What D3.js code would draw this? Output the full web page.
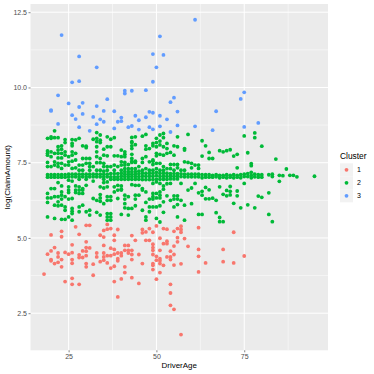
<!DOCTYPE html>
<html><head><meta charset="utf-8"><script src="https://cdn.jsdelivr.net/npm/d3@7"></script>
<style>html,body{margin:0;background:#fff}svg{display:block;font-family:"Liberation Sans",Arial,sans-serif}</style></head>
<body><svg id="c" width="374" height="374"></svg>
<script>
const xTicks=[25,50,75], yTicks=[2.5,5,7.5,10,12.5];
const xTitle="DriverAge", yTitle="log(ClaimAmount)", legendTitle="Cluster";
const clusters=["1","2","3"], colours=["#F8766D","#00BA38","#619CFF"];
const cluster1=[[18,[3.8]],[19,[4.46]],[20,[4.57,5.1,4.28,4.24]],[21,[4.68,4.15]],[22,[4.5,4.37,4.19]],[23,[5.22,5.04,4.28,4.04]],[24,[3.55,4.52]],[25,[4.46]],[26,[4.77,4.51,4.28,4.16,3.66,3.46]],[27,[5.37]],[28,[5.12,4.44,4.35,3.46]],[29,[4.57,4.35]],[30,[5.42,4.87,4.68,4.56,4.41,4.15,4.04]],[31,[5.42,4.67]],[32,[4.13,3.76]],[33,[4.5,4.37]],[34,[5.09,4.21]],[35,[5.25,5.03,4.75,4.5,4.37,4.26]],[36,[5.45,5.29,4.41,4.17]],[37,[5.31,4.66,4.41,4.0]],[38,[5.09,4.92,4.62,4.46,4.06,3.55]],[39,[5.28,4.5,4.31,4.24,3.04]],[40,[4.5,4.41,3.64]],[41,[4.75,4.59,4.04,3.85]],[42,[4.75,4.59,4.5]],[43,[5.08,4.59,4.45,4.28,3.68]],[44,[4.92]],[45,[4.45,3.49]],[46,[5.28,5.17,4.15]],[47,[5.2,4.92]],[48,[5.31,4.92]],[49,[5.19,4.79,4.68,4.59,4.45,4.15,4.09,3.95]],[50,[5.4,4.39,4.26,3.63]],[51,[4.99,4.59,4.31,4.24,4.15,3.85]],[52,[5.31,4.81,4.09]],[53,[5.29,4.89,4.81,4.37]],[54,[4.56,4.37,4.28,3.46,3.17,2.76]],[55,[5.22,4.73,4.45,4.1,2.63]],[56,[5.31,5.01,4.87]],[57,[5.39,5.28,5.19,4.14,1.79]],[58,[4.98]],[59,[4.72]],[62,[5.34,4.62,4.39,3.87]],[64,[4.17]],[69,[4.62,4.21]],[72,[5.19,4.17]],[75,[4.4]]];
const cluster2=[
[19,[8.31,7.89,7.81,7.75,7.51,7.37,7.1,7.02,6.48,6.33,6.18,5.7]],
[20,[8.36,8.31,7.86,7.7,7.37,7.1,7.02,6.64,6.33]],
[21,[8.56,8.33,7.81,7.53,7.42,7.1,7.02,6.64,6.37,6.09,5.65]],
[22,[8.33,8.03,7.92,7.81,7.66,7.48,7.37,7.1,7.02,6.84,6.37,6.2,6.07]],
[23,[8.06,7.95,7.81,7.66,7.48,7.31,7.1,7.02,6.73,6.53,6.42,6.29,6.09,5.62]],
[24,[8.27,8.17,7.86,7.75,7.42,7.1,7.02,6.37,6.03,5.92,5.62]],
[25,[7.7,7.53,7.42,7.12,7.03,6.92,6.7,6.59,6.51,6.29,5.7]],
[26,[8.27,8.14,8.06,7.86,7.75,7.55,7.31,7.12,7.03,6.89,6.31,5.98,5.89,5.81,5.59]],
[27,[8.26,7.81,7.59,7.33,7.12,7.03,6.73,6.59,6.51]],
[28,[8.31,7.42,7.25,7.12,7.03,6.95,6.7,6.59,6.48,6.03,5.87]],
[29,[8.06,7.64,7.42,7.25,7.12,7.03,6.64,6.59,6.48,6.09]],
[30,[8.05,8.0,7.64,7.48,7.12,7.03,6.95,6.75,5.87]],
[31,[7.64,7.48,7.37,7.25,7.12,7.03,5.92,5.76]],
[32,[8.28,7.37,7.12,7.03,6.89,6.31]],
[33,[8.5,8.31,8.2,8.03,7.86,7.7,7.5,7.25,7.12,7.03,6.25,5.85]],
[34,[8.42,8.25,8.17,7.64,7.5,7.25,7.12,7.03,6.7,6.44,6.33,6.22,5.76]],
[35,[7.95,7.75,7.48,7.37,7.22,7.12,7.03,6.95,6.84,6.66,6.14]],
[36,[8.36,8.03,7.73,7.37,7.25,7.12,7.03,6.86,6.7,6.37,6.25,5.81,5.7,5.59]],
[37,[8.28,8.03,7.37,7.14,7.03,6.95,6.37,6.25,5.81,5.7,5.59]],
[38,[8.33,7.73,7.42,7.25,7.14,7.03,6.95,6.7,6.53]],
[39,[7.73,7.37,7.14,7.03,6.95,6.75,6.59,6.31]],
[40,[7.92,7.7,7.53,7.42,7.25,7.15,7.05,6.95,6.73,6.62,6.59,5.78]],
[41,[7.86,7.78,7.7,7.51,7.42,7.3,7.2,7.12,7.04,6.95,6.42,6.29,6.14,6.0]],
[42,[7.44,7.3,7.2,7.12,7.04,6.95,6.37,5.98,5.76]],
[43,[8.34,8.2,8.17,8.06,7.97,7.78,7.64,7.55,7.51,7.3,7.2,7.12,7.04,6.95,6.77,5.98]],
[44,[8.36,8.1,7.55,7.51,7.3,7.2,7.12,7.04,6.95,6.75,6.42,6.29,6.07]],
[45,[7.37,7.22,7.13,7.04,6.95,6.75,6.42]],
[46,[8.38,7.64,7.51,7.25,7.15,7.05,6.94,6.64,6.59,5.92]],
[47,[8.44,8.06,7.95,7.7,7.3,7.15,7.05,6.94,6.53,6.18,5.7,5.59]],
[48,[7.97,7.53,7.25,7.15,7.05,6.94,6.29,6.03,5.87]],
[49,[8.14,8.06,7.59,7.55,7.44,7.25,7.15,7.05,6.94,6.81,6.48,6.37,6.29,6.03]],
[50,[8.31,8.17,8.03,7.81,7.73,7.48,7.3,7.18,7.07,6.95,6.86,6.48,6.33,6.03,5.65]],
[51,[8.42,8.22,8.09,7.78,7.48,7.25,7.15,7.05,6.95,6.81,6.53,6.42,6.33,6.07,5.53]],
[52,[8.47,8.33,8.03,7.75,7.37,7.25,7.15,7.05,6.95,6.73,6.62,6.2,5.85]],
[53,[8.14,7.97,7.81,7.3,7.15,7.05,6.95,6.8,6.4]],
[54,[7.84,7.44,7.3,7.14,7.05,6.96,6.81,6.25]],
[55,[8.06,7.75,7.44,7.25,7.14,7.05,6.96,6.4,6.29,6.03]],
[56,[8.36,8.03,7.44,7.33,7.14,7.05,6.96,6.4,6.29,6.11,5.7]],
[57,[7.25,7.13,7.04,6.81,6.25]],
[58,[7.97,7.92,7.53,7.25,7.12,7.03,6.09,5.59]],
[59,[8.44,7.51,7.12,7.03,6.59]],
[60,[7.48,7.33,7.12,7.03,6.66,6.14]],
[61,[7.42,7.12,7.03,6.81]],
[62,[7.42,7.31,7.12,7.03,6.5,5.78]],
[63,[8.23,7.72,7.1,7.0,6.55,6.42,5.78]],[64,[8.06,7.1,7.02,6.68,6.3]],[65,[7.84,7.64,7.1,7.02,6.6,6.3]],[66,[7.64,7.08,7.02,6.32]],[67,[7.1,7.03,6.25,5.84]],[68,[7.9,7.08,7.0,6.7,5.68,5.54]],[69,[7.86,7.08,7.02,6.45,5.54]],[70,[7.9,7.1,7.0,6.58,6.4]],[71,[7.93,7.08,7.02,6.71,6.55,6.43]],[72,[7.72,7.1,7.0,6.15]],[73,[7.78,7.33,7.08,7.02,6.56,6.4]],[74,[7.1,7.0,6.0]],[75,[8.39,7.12,7.04,6.81]],[76,[7.83,7.14,7.04,6.1]],[77,[7.47,7.4,7.18,7.08,7.0]],[78,[8.49,8.33,7.12,7.03,6.0]],[79,[7.1,7.02,6.39]],[80,[8.05,7.1,7.02,6.35]],[82,[7.1,6.5,5.78]],[83,[7.12,7.04,5.54]],[84,[7.62]],[85,[7.08,6.88]],[86,[7.07]],[87,[7.29]],[88,[7.08]],[89,[7.08]],[90,[7.03]],[95,[7.05]]];
const cluster3=[[20,[9.25,9.22]],[22,[9.74,8.79]],[23,[11.74]],[25,[9.47]],[26,[10.17,9.08]],[27,[8.95]],[28,[11.03,10.21,9.35,8.68]],[29,[9.49,9.12]],[31,[8.56]],[32,[9.02]],[33,[10.67,9.38,8.78]],[34,[8.94]],[35,[9.22,8.86]],[36,[9.61]],[38,[9.21,8.64]],[39,[8.86]],[40,[9.0,8.88]],[41,[9.89,9.8]],[42,[8.68]],[43,[9.89,8.72]],[44,[9.06]],[45,[8.91,8.6]],[47,[9.91,9.01]],[48,[9.19,8.68]],[49,[11.11,10.19,9.16,8.61]],[50,[10.67]],[51,[11.7,9.06,8.71]],[52,[11.08]],[53,[8.94]],[54,[9.51,8.52]],[55,[9.66]],[56,[9.2,8.74]],[61,[12.25,8.71]],[66,[8.58]],[67,[9.21]],[74,[9.62]],[75,[9.84,8.69]],[79,[8.82]]];
const series=[cluster1,cluster2,cluster3];

const W=374,H=374,m={l:30.5,r:328,t:4,b:350.3};
const svg=d3.select("#c");
const allP=series.flatMap((s,i)=>s.flatMap(([a,vs])=>vs.map(v=>({a,v,i}))));
const x=d3.scaleLinear().domain(d3.extent(allP,d=>d.a)).range([m.l,m.r]);
const xe=x.domain(), ey=d3.extent(allP,d=>d.v);
const pad=(xe[1]-xe[0])*.05; x.domain([xe[0]-pad,xe[1]+pad]);
const yp=(ey[1]-ey[0])*.05;
const y=d3.scaleLinear().domain([ey[0]-yp,ey[1]+yp]).range([m.b,m.t]);
svg.append("rect").attr("x",m.l).attr("y",m.t).attr("width",m.r-m.l).attr("height",m.b-m.t).attr("fill","#EBEBEB");
const mid=a=>a.slice(0,-1).map((t,i)=>(t+a[i+1])/2);
const xMinor=[...mid(xTicks),xTicks[2]+(xTicks[1]-xTicks[0])/2];
const yMinor=mid(yTicks);
const g=svg.append("g");
xMinor.forEach(t=>g.append("line").attr("x1",x(t)).attr("x2",x(t)).attr("y1",m.t).attr("y2",m.b).attr("stroke","#fff").attr("stroke-width",.5));
yMinor.forEach(t=>g.append("line").attr("y1",y(t)).attr("y2",y(t)).attr("x1",m.l).attr("x2",m.r).attr("stroke","#fff").attr("stroke-width",.5));
xTicks.forEach(t=>g.append("line").attr("x1",x(t)).attr("x2",x(t)).attr("y1",m.t).attr("y2",m.b).attr("stroke","#fff").attr("stroke-width",1));
yTicks.forEach(t=>g.append("line").attr("y1",y(t)).attr("y2",y(t)).attr("x1",m.l).attr("x2",m.r).attr("stroke","#fff").attr("stroke-width",1));
svg.append("g").selectAll("circle").data(allP).join("circle").attr("cx",d=>x(d.a)).attr("cy",d=>y(d.v)).attr("r",1.9).attr("fill",d=>colours[d.i]);
const ax=svg.append("g").attr("transform",`translate(0,${m.b})`).call(d3.axisBottom(x).tickValues(xTicks).tickFormat(d3.format("d")).tickSize(2).tickPadding(1.5));
const ay=svg.append("g").attr("transform",`translate(${m.l},0)`).call(d3.axisLeft(y).tickValues(yTicks).tickFormat(d3.format(".1f")).tickSize(2).tickPadding(1.5));
[ax,ay].forEach(a=>{a.select(".domain").remove();a.selectAll("line").attr("stroke","#333").attr("stroke-width",.6);a.selectAll("text").attr("fill","#4D4D4D").style("font-size","7px").style("font-family",'"Liberation Sans",Arial,sans-serif');});
svg.append("text").attr("x",(m.l+m.r)/2).attr("y",368).attr("text-anchor","middle").attr("font-size","8px").attr("fill","#000").text(xTitle);
svg.append("text").attr("transform",`translate(10,${(m.t+m.b)/2}) rotate(-90)`).attr("text-anchor","middle").attr("font-size","8px").attr("fill","#000").text(yTitle);
svg.append("text").attr("x",340).attr("y",159).attr("font-size","8.4px").text(legendTitle);
const keyY=d3.scaleBand().domain(clusters).range([163.3,202.3]);
clusters.forEach((c,i)=>{
 svg.append("rect").attr("x",340).attr("y",keyY(c)).attr("width",13).attr("height",13).attr("fill","#F2F2F2");
 svg.append("circle").attr("cx",346.5).attr("cy",keyY(c)+6.5).attr("r",1.9).attr("fill",colours[i]);
 svg.append("text").attr("x",357).attr("y",keyY(c)+9).attr("font-size","7px").attr("fill","#000").text(c);
});
</script></body></html>
